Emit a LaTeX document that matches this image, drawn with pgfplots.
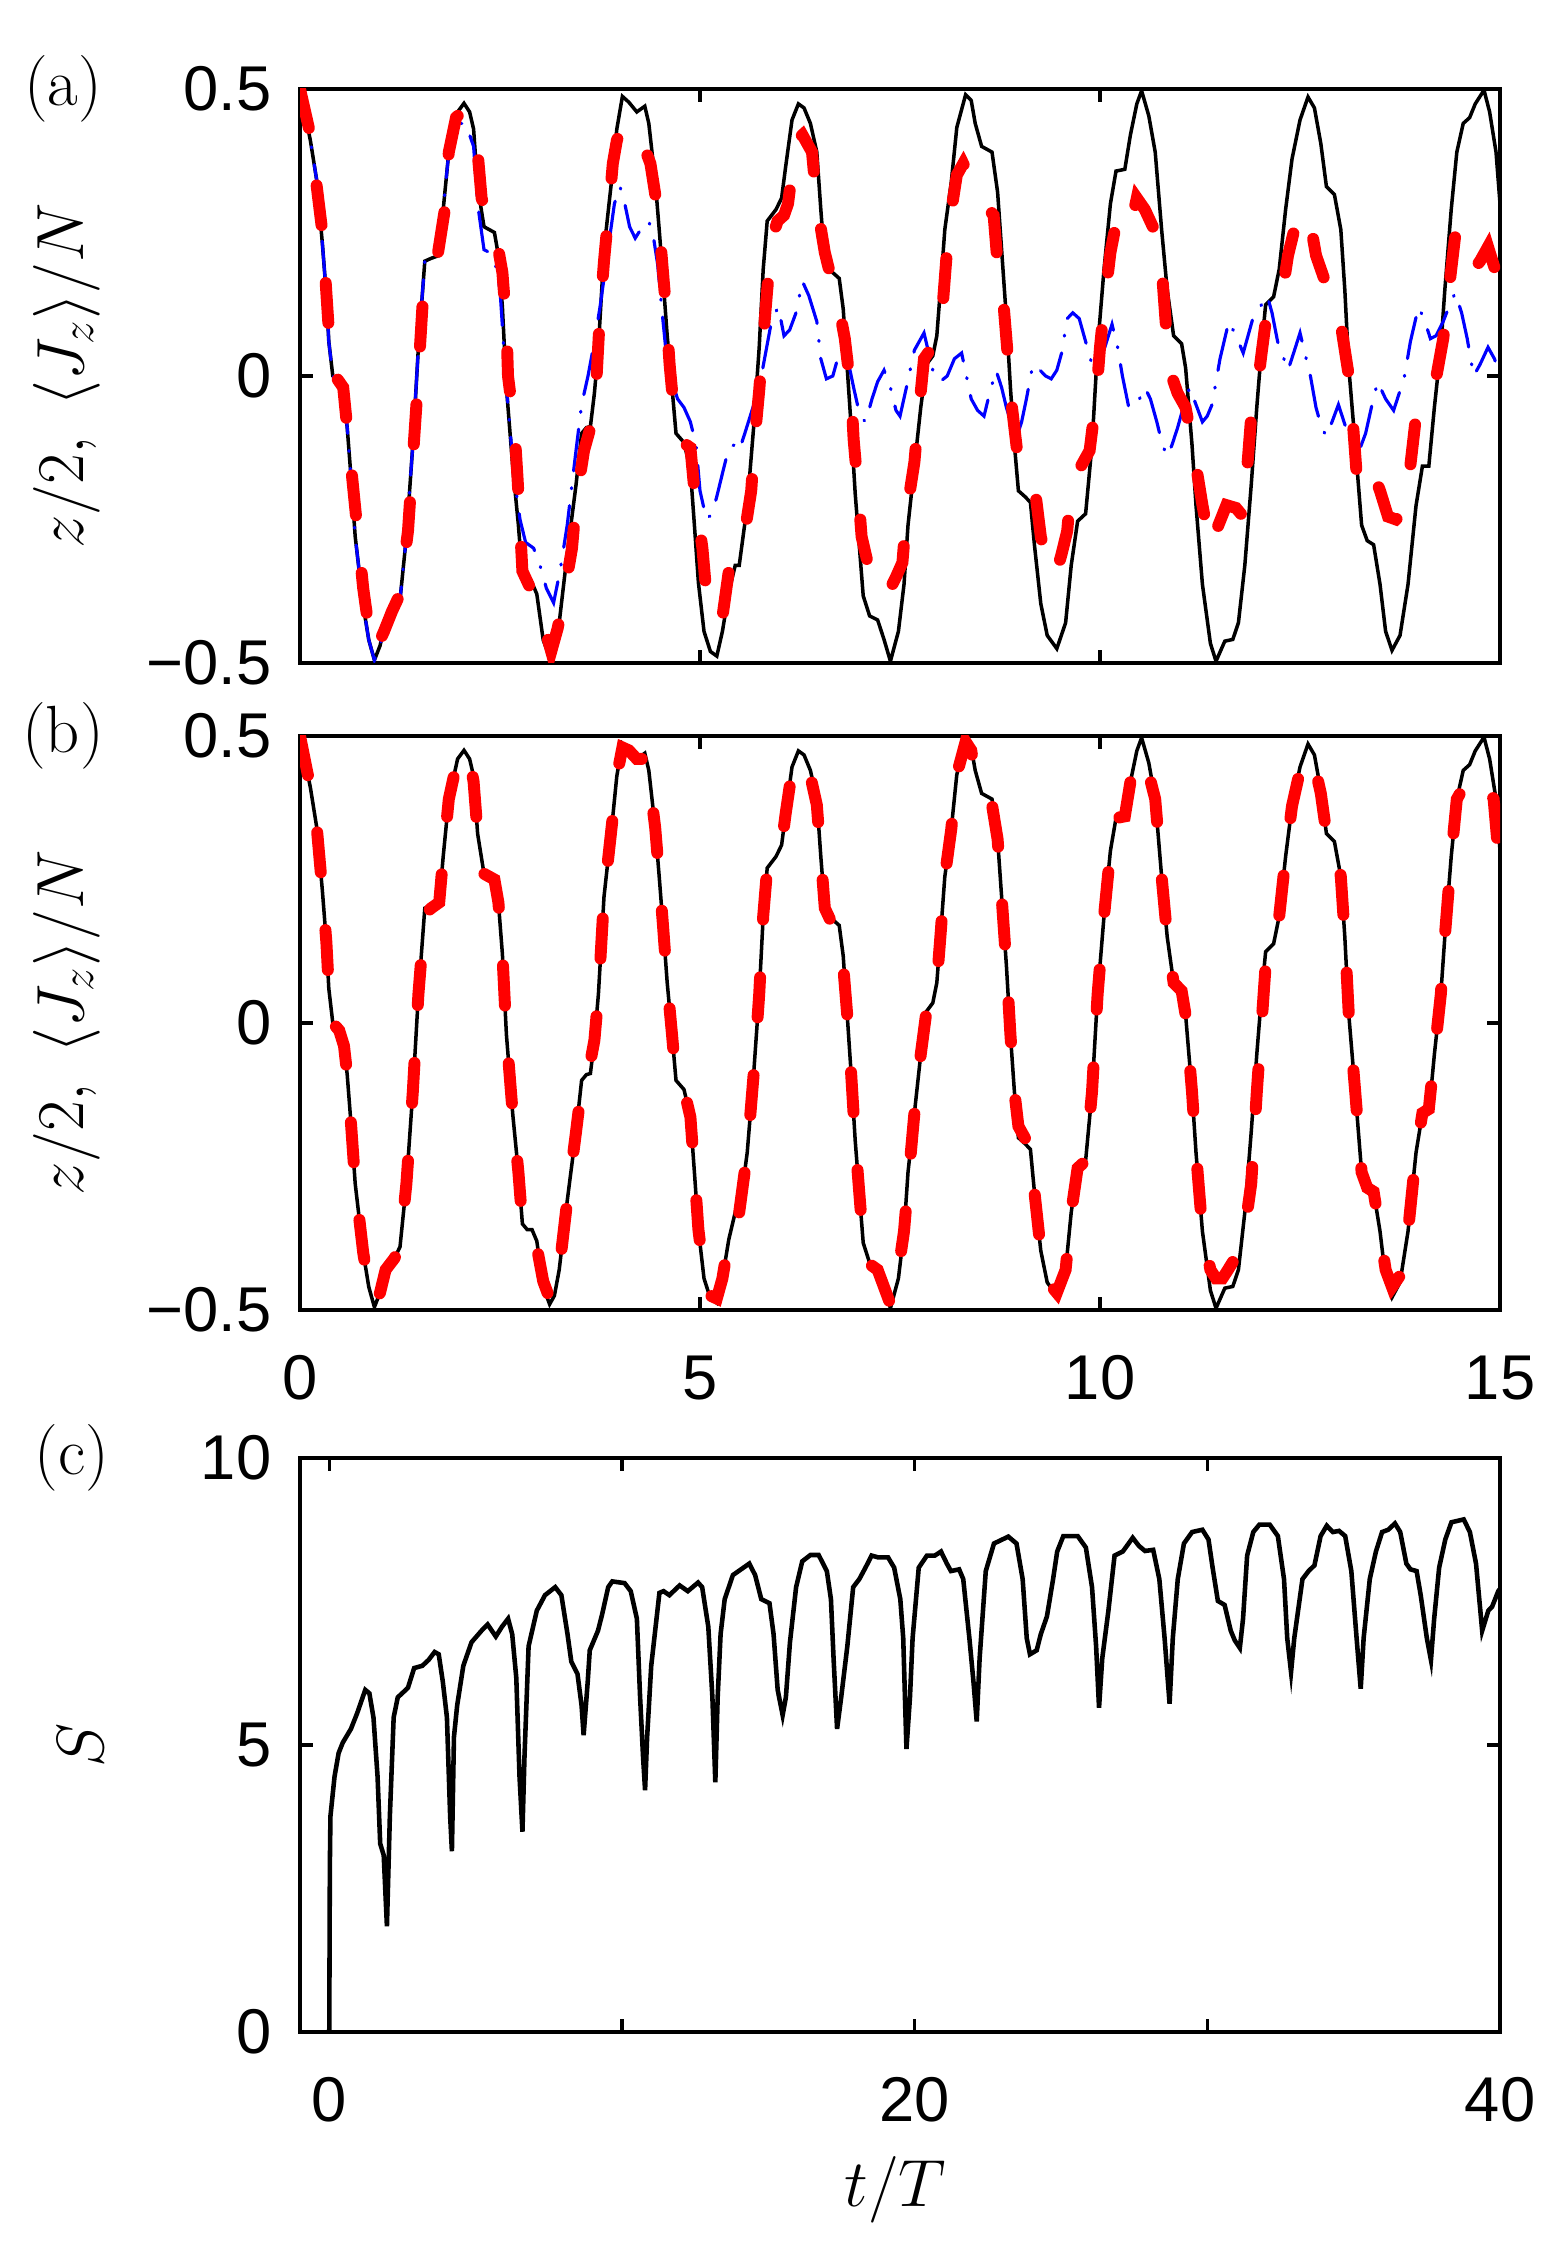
\RequirePackage{fix-cm}
\documentclass[border=0pt]{standalone}
\usepackage{fontspec}
\usepackage{pgfplots}
\pgfplotsset{compat=1.18}
\newfontfamily\helv{Liberation Sans}
\definecolor{mred}{RGB}{255,0,0}
\definecolor{mblue}{RGB}{0,0,255}
\newcommand\labfont{\fontsize{19}{23}\selectfont}

\pgfplotstableread{
t z
0 0.5
0.13 0.41
0.21 0.34
0.28 0.23
0.33 0.14
0.36 0.06
0.41 0.0
0.49 -0.013
0.55 -0.04
0.59 -0.09
0.64 -0.18
0.69 -0.28
0.79 -0.40
0.86 -0.46
0.93 -0.495
1.0 -0.47
1.07 -0.43
1.18 -0.41
1.25 -0.39
1.33 -0.28
1.41 -0.12
1.48 0.05
1.56 0.20
1.64 0.205
1.74 0.21
1.79 0.29
1.86 0.39
1.97 0.46
2.05 0.475
2.12 0.46
2.17 0.43
2.22 0.33
2.3 0.26
2.43 0.25
2.48 0.21
2.53 0.12
2.58 -0.02
2.66 -0.16
2.73 -0.26
2.78 -0.35
2.84 -0.36
2.9 -0.36
2.96 -0.38
3.04 -0.46
3.12 -0.49
3.18 -0.475
3.24 -0.43
3.34 -0.31
3.45 -0.19
3.52 -0.10
3.58 -0.09
3.63 -0.088
3.68 -0.03
3.73 0.05
3.8 0.22
3.91 0.36
3.96 0.43
4.03 0.487
4.11 0.477
4.21 0.46
4.31 0.47
4.36 0.44
4.44 0.34
4.49 0.255
4.54 0.165
4.59 0.07
4.65 -0.02
4.7 -0.1
4.8 -0.116
4.88 -0.164
4.93 -0.26
4.98 -0.36
5.05 -0.445
5.13 -0.48
5.21 -0.488
5.28 -0.445
5.36 -0.377
5.44 -0.33
5.49 -0.33
5.59 -0.226
5.67 -0.09
5.74 0.05
5.79 0.186
5.84 0.27
5.95 0.29
6.02 0.31
6.07 0.364
6.15 0.446
6.23 0.474
6.3 0.467
6.38 0.44
6.46 0.39
6.51 0.29
6.56 0.2
6.66 0.18
6.74 0.17
6.79 0.117
6.84 0.014
6.89 -0.09
6.94 -0.205
6.99 -0.294
7.04 -0.383
7.12 -0.418
7.22 -0.425
7.3 -0.459
7.38 -0.497
7.48 -0.445
7.55 -0.363
7.6 -0.26
7.68 -0.157
7.76 -0.054
7.83 0.02
7.91 0.035
7.96 0.07
8.01 0.16
8.06 0.255
8.14 0.337
8.21 0.433
8.32 0.49
8.39 0.48
8.44 0.44
8.52 0.40
8.65 0.39
8.72 0.32
8.78 0.2
8.83 0.1
8.88 -0.02
8.93 -0.12
8.98 -0.2
9.06 -0.21
9.13 -0.22
9.18 -0.294
9.26 -0.397
9.34 -0.452
9.46 -0.475
9.57 -0.43
9.64 -0.33
9.72 -0.253
9.82 -0.24
9.9 -0.12
9.97 0.05
10.05 0.186
10.13 0.3
10.2 0.357
10.31 0.36
10.38 0.42
10.46 0.474
10.52 0.497
10.61 0.453
10.69 0.39
10.77 0.255
10.84 0.15
10.92 0.07
11.02 0.056
11.07 0.014
11.15 -0.12
11.2 -0.226
11.28 -0.363
11.38 -0.466
11.45 -0.497
11.56 -0.462
11.66 -0.459
11.73 -0.43
11.81 -0.33
11.89 -0.19
11.96 -0.054
12.02 0.05
12.07 0.124
12.17 0.138
12.24 0.186
12.32 0.29
12.4 0.378
12.5 0.446
12.6 0.486
12.68 0.467
12.76 0.405
12.83 0.33
12.93 0.316
13.01 0.255
13.06 0.15
13.11 0.014
13.19 -0.12
13.27 -0.26
13.34 -0.287
13.42 -0.294
13.5 -0.363
13.57 -0.445
13.65 -0.478
13.75 -0.452
13.85 -0.363
13.95 -0.226
14.03 -0.157
14.11 -0.157
14.18 -0.054
14.26 0.05
14.31 0.15
14.39 0.29
14.46 0.39
14.54 0.44
14.62 0.45
14.69 0.474
14.8 0.498
14.87 0.46
14.95 0.39
15.0 0.3
}\blackdata

\pgfplotstableread{
t z
0 0.5
0.13 0.41
0.21 0.34
0.28 0.23
0.33 0.14
0.36 0.06
0.41 0.0
0.49 -0.013
0.55 -0.04
0.59 -0.09
0.64 -0.18
0.69 -0.28
0.79 -0.40
0.86 -0.46
0.93 -0.495
1.0 -0.47
1.07 -0.43
1.18 -0.41
1.25 -0.39
1.33 -0.28
1.41 -0.12
1.48 0.05
1.56 0.20
1.64 0.205
1.74 0.21
1.79 0.29
1.86 0.39
1.97 0.44
2.07 0.44
2.17 0.40
2.22 0.30
2.30 0.22
2.37 0.215
2.45 0.19
2.5 0.15
2.58 -0.02
2.68 -0.18
2.75 -0.25
2.82 -0.29
2.92 -0.30
3.0 -0.33
3.08 -0.37
3.17 -0.395
3.25 -0.34
3.34 -0.26
3.45 -0.13
3.52 -0.05
3.6 0.0
3.68 0.06
3.75 0.12
3.85 0.22
3.93 0.30
4.0 0.33
4.06 0.30
4.12 0.26
4.19 0.24
4.28 0.26
4.36 0.27
4.42 0.24
4.47 0.195
4.52 0.12
4.57 0.05
4.65 -0.01
4.72 -0.04
4.8 -0.055
4.88 -0.08
4.95 -0.12
5.0 -0.2
5.08 -0.25
5.15 -0.24
5.21 -0.21
5.28 -0.17
5.36 -0.125
5.43 -0.12
5.49 -0.13
5.56 -0.10
5.65 -0.06
5.74 -0.02
5.82 0.04
5.9 0.1
5.98 0.12
6.05 0.07
6.12 0.08
6.2 0.11
6.28 0.165
6.36 0.14
6.46 0.095
6.51 0.03
6.58 -0.005
6.66 0.0
6.74 0.04
6.8 0.05
6.86 0.02
6.92 -0.02
7.0 -0.07
7.07 -0.08
7.15 -0.04
7.22 -0.01
7.3 0.01
7.38 -0.02
7.45 -0.06
7.5 -0.07
7.58 -0.02
7.68 0.045
7.8 0.075
7.91 0.01
8.0 -0.01
8.09 0.0
8.18 0.03
8.27 0.04
8.33 0.0
8.39 -0.04
8.47 -0.06
8.55 -0.07
8.62 -0.03
8.7 0.01
8.77 -0.02
8.83 -0.055
8.95 -0.11
9.02 -0.08
9.08 -0.04
9.16 0.02
9.25 0.01
9.32 0.0
9.39 -0.005
9.46 0.01
9.52 0.04
9.59 0.1
9.66 0.11
9.74 0.1
9.82 0.06
9.9 0.02
9.98 0.02
10.06 0.05
10.15 0.09
10.22 0.05
10.28 0.0
10.36 -0.055
10.46 -0.05
10.56 -0.02
10.63 -0.04
10.71 -0.08
10.78 -0.12
10.84 -0.14
10.9 -0.12
10.97 -0.09
11.05 -0.05
11.12 -0.02
11.2 -0.05
11.28 -0.08
11.34 -0.07
11.4 -0.05
11.5 0.03
11.61 0.095
11.7 0.07
11.79 0.04
11.85 0.07
11.91 0.10
12.0 0.12
12.09 0.14
12.15 0.11
12.22 0.06
12.35 0.01
12.42 0.04
12.5 0.075
12.56 0.04
12.63 0.0
12.7 -0.055
12.77 -0.09
12.83 -0.105
12.9 -0.08
12.98 -0.05
13.05 -0.08
13.16 -0.125
13.24 -0.13
13.32 -0.10
13.4 -0.05
13.47 -0.01
13.57 -0.04
13.67 -0.06
13.74 -0.03
13.8 -0.005
13.88 0.06
13.98 0.12
14.05 0.1
14.13 0.065
14.2 0.07
14.29 0.095
14.36 0.12
14.44 0.145
14.52 0.11
14.59 0.065
14.67 0.0
14.75 0.02
14.85 0.05
14.93 0.03
15.0 0.0
}\bluedata

\pgfplotstableread{
t z
0 0.5
0.13 0.42
0.28 0.25
0.36 0.08
0.44 0.0
0.54 -0.02
0.59 -0.09
0.69 -0.23
0.79 -0.37
0.9 -0.48
0.97 -0.47
1.05 -0.445
1.15 -0.41
1.25 -0.38
1.35 -0.27
1.46 -0.04
1.53 0.12
1.62 0.19
1.72 0.21
1.81 0.29
1.86 0.39
1.95 0.45
2.02 0.46
2.1 0.45
2.22 0.39
2.27 0.31
2.35 0.27
2.43 0.26
2.53 0.18
2.58 0.09
2.6 0.0
2.68 -0.09
2.72 -0.18
2.78 -0.34
2.88 -0.37
2.99 -0.40
3.08 -0.45
3.14 -0.48
3.22 -0.44
3.29 -0.39
3.4 -0.30
3.45 -0.22
3.55 -0.13
3.65 -0.08
3.7 -0.02
3.75 0.11
3.8 0.2
3.86 0.29
3.91 0.37
3.96 0.41
4.03 0.44
4.1 0.43
4.16 0.415
4.3 0.40
4.38 0.37
4.47 0.29
4.52 0.21
4.57 0.125
4.62 0.02
4.67 -0.055
4.75 -0.10
4.83 -0.12
4.88 -0.125
4.93 -0.2
5.03 -0.30
5.08 -0.38
5.18 -0.43
5.28 -0.42
5.36 -0.34
5.45 -0.31
5.54 -0.29
5.64 -0.2
5.69 -0.1
5.74 -0.025
5.79 0.065
5.84 0.15
5.9 0.24
5.97 0.27
6.05 0.28
6.1 0.30
6.2 0.41
6.28 0.42
6.36 0.40
6.4 0.39
6.46 0.30
6.56 0.215
6.64 0.17
6.71 0.14
6.81 0.065
6.89 -0.03
6.92 -0.11
6.97 -0.19
7.02 -0.28
7.12 -0.34
7.22 -0.325
7.3 -0.35
7.38 -0.37
7.45 -0.35
7.53 -0.325
7.58 -0.24
7.68 -0.15
7.73 -0.07
7.8 0.03
7.9 0.05
8.01 0.08
8.06 0.17
8.11 0.26
8.21 0.35
8.29 0.37
8.36 0.35
8.42 0.315
8.55 0.30
8.67 0.28
8.72 0.195
8.8 0.115
8.85 0.03
8.9 -0.055
8.98 -0.15
9.08 -0.175
9.18 -0.19
9.26 -0.28
9.34 -0.325
9.44 -0.35
9.52 -0.31
9.59 -0.27
9.64 -0.19
9.75 -0.16
9.87 -0.13
9.95 -0.04
10.0 0.05
10.05 0.12
10.13 0.215
10.2 0.265
10.28 0.26
10.36 0.245
10.46 0.31
10.56 0.29
10.66 0.26
10.77 0.19
10.82 0.095
10.87 0.01
10.97 -0.03
11.07 -0.055
11.17 -0.13
11.28 -0.225
11.38 -0.30
11.48 -0.26
11.58 -0.225
11.7 -0.23
11.79 -0.245
11.84 -0.16
11.89 -0.07
11.94 -0.05
12.02 0.04
12.09 0.115
12.2 0.14
12.3 0.165
12.35 0.21
12.42 0.25
12.5 0.27
12.6 0.29
12.7 0.21
12.8 0.17
12.91 0.145
13.01 0.09
13.11 0.0
13.16 -0.08
13.21 -0.175
13.32 -0.2
13.42 -0.17
13.5 -0.2
13.6 -0.245
13.7 -0.25
13.78 -0.24
13.88 -0.155
13.95 -0.07
14.03 -0.035
14.1 -0.03
14.18 -0.02
14.29 0.065
14.36 0.15
14.44 0.245
14.54 0.24
14.64 0.18
14.75 0.2
14.85 0.225
14.95 0.18
15.0 0.14
}\redAdata

\pgfplotstableread{
t z
0 0.5
0.13 0.41
0.21 0.34
0.28 0.23
0.33 0.14
0.36 0.06
0.41 0.0
0.49 -0.013
0.55 -0.04
0.59 -0.09
0.64 -0.18
0.69 -0.28
0.79 -0.40
0.86 -0.46
0.93 -0.49
1.0 -0.47
1.07 -0.43
1.18 -0.41
1.25 -0.39
1.33 -0.28
1.41 -0.12
1.48 0.05
1.56 0.19
1.64 0.20
1.74 0.21
1.79 0.29
1.86 0.39
1.97 0.46
2.05 0.475
2.12 0.46
2.17 0.42
2.22 0.33
2.3 0.26
2.43 0.25
2.48 0.21
2.53 0.12
2.58 -0.02
2.66 -0.16
2.73 -0.26
2.78 -0.35
2.84 -0.36
2.9 -0.37
2.96 -0.39
3.04 -0.45
3.12 -0.48
3.18 -0.47
3.24 -0.43
3.34 -0.31
3.45 -0.19
3.52 -0.11
3.6 -0.09
3.68 -0.03
3.73 0.05
3.8 0.22
3.91 0.36
3.96 0.43
4.03 0.48
4.11 0.475
4.21 0.46
4.31 0.46
4.36 0.43
4.44 0.34
4.49 0.255
4.54 0.165
4.59 0.07
4.65 -0.02
4.7 -0.1
4.8 -0.116
4.88 -0.164
4.93 -0.26
4.98 -0.36
5.05 -0.44
5.13 -0.475
5.21 -0.48
5.28 -0.445
5.36 -0.377
5.44 -0.33
5.49 -0.33
5.59 -0.226
5.67 -0.09
5.74 0.05
5.79 0.186
5.84 0.27
5.95 0.29
6.02 0.31
6.07 0.364
6.15 0.44
6.23 0.46
6.3 0.455
6.38 0.43
6.46 0.38
6.51 0.29
6.56 0.2
6.66 0.17
6.74 0.14
6.79 0.10
6.84 0.014
6.89 -0.09
6.94 -0.205
6.99 -0.294
7.04 -0.383
7.12 -0.42
7.22 -0.43
7.3 -0.46
7.38 -0.49
7.48 -0.43
7.55 -0.363
7.6 -0.28
7.68 -0.157
7.76 -0.054
7.83 0.02
7.91 0.035
7.96 0.07
8.01 0.16
8.06 0.255
8.14 0.337
8.21 0.433
8.32 0.49
8.39 0.475
8.44 0.43
8.52 0.40
8.65 0.38
8.72 0.32
8.78 0.2
8.83 0.1
8.88 -0.02
8.93 -0.12
8.98 -0.18
9.06 -0.20
9.13 -0.22
9.18 -0.294
9.26 -0.397
9.34 -0.45
9.46 -0.47
9.57 -0.43
9.64 -0.33
9.72 -0.253
9.82 -0.24
9.9 -0.12
9.97 0.05
10.05 0.186
10.13 0.3
10.2 0.357
10.31 0.36
10.38 0.42
10.46 0.46
10.52 0.465
10.58 0.45
10.69 0.39
10.77 0.255
10.84 0.15
10.92 0.07
11.02 0.056
11.07 0.014
11.15 -0.12
11.2 -0.226
11.28 -0.363
11.38 -0.43
11.45 -0.445
11.53 -0.445
11.6 -0.43
11.73 -0.40
11.81 -0.36
11.89 -0.28
11.96 -0.12
12.02 0.0
12.07 0.10
12.17 0.135
12.24 0.186
12.32 0.29
12.4 0.378
12.5 0.44
12.6 0.47
12.68 0.45
12.76 0.40
12.83 0.33
12.93 0.316
13.01 0.255
13.06 0.15
13.11 0.014
13.19 -0.12
13.27 -0.26
13.34 -0.287
13.42 -0.294
13.5 -0.363
13.57 -0.43
13.65 -0.46
13.75 -0.44
13.85 -0.363
13.95 -0.226
14.03 -0.157
14.11 -0.15
14.18 -0.054
14.26 0.05
14.31 0.15
14.39 0.29
14.46 0.39
14.54 0.41
14.62 0.405
14.69 0.42
14.76 0.43
14.85 0.41
14.92 0.39
14.97 0.31
15.0 0.28
}\redBdata

\pgfplotstableread{
t S
0 0
0.02 2.9
0.04 3.76
0.18 4.45
0.32 4.86
0.46 5.04
0.74 5.28
0.95 5.55
1.23 5.96
1.37 5.9
1.51 5.48
1.65 4.45
1.74 3.28
1.86 3.08
1.97 1.84
2.07 3.76
2.2 5.48
2.34 5.83
2.55 5.93
2.69 6.0
2.9 6.34
3.18 6.38
3.39 6.48
3.6 6.62
3.74 6.58
3.88 6.1
4.02 5.48
4.13 3.76
4.19 3.15
4.26 5.14
4.37 5.69
4.58 6.38
4.86 6.79
5.2 6.99
5.41 7.1
5.69 6.89
5.9 7.06
6.11 7.2
6.25 6.93
6.39 6.17
6.5 4.45
6.6 3.49
6.67 4.8
6.81 6.72
7.09 7.34
7.37 7.61
7.72 7.75
7.93 7.61
8.14 6.93
8.27 6.45
8.48 6.24
8.62 5.69
8.69 5.17
8.83 6.1
8.9 6.65
9.18 6.99
9.32 7.27
9.53 7.75
9.67 7.85
10.09 7.82
10.3 7.68
10.51 7.2
10.62 5.83
10.72 4.8
10.79 4.21
10.86 5.14
11.0 6.38
11.28 7.65
11.42 7.68
11.62 7.61
11.97 7.78
12.25 7.68
12.6 7.83
12.74 7.75
12.95 7.06
13.09 5.83
13.19 4.35
13.27 5.83
13.37 6.93
13.51 7.54
13.79 7.96
14.07 8.06
14.35 8.16
14.55 7.96
14.76 7.54
15.04 7.47
15.18 6.93
15.32 5.96
15.49 5.52
15.6 5.83
15.74 6.79
15.95 7.75
16.16 8.2
16.44 8.31
16.72 8.31
17.0 8.03
17.14 7.54
17.23 6.51
17.35 5.28
17.49 5.83
17.7 6.72
17.9 7.75
18.11 7.89
18.32 8.09
18.53 8.3
18.74 8.27
19.09 8.27
19.3 8.09
19.51 7.54
19.61 6.86
19.72 4.93
19.84 5.83
19.93 6.86
20.14 8.09
20.42 8.3
20.69 8.3
20.9 8.37
21.1 8.16
21.24 8.03
21.52 8.06
21.66 7.89
21.87 6.86
22.01 6.1
22.12 5.41
22.22 6.51
22.43 8.03
22.71 8.51
23.2 8.63
23.48 8.51
23.69 7.89
23.83 6.86
23.94 6.58
24.17 6.65
24.31 6.93
24.52 7.24
24.73 7.89
24.87 8.37
25.08 8.64
25.57 8.64
25.85 8.44
26.06 7.75
26.2 6.72
26.3 5.65
26.41 6.51
26.62 7.34
26.83 8.3
27.11 8.37
27.31 8.51
27.45 8.61
27.66 8.47
27.87 8.38
28.15 8.4
28.36 7.89
28.54 6.86
28.71 5.72
28.82 6.86
28.99 7.89
29.2 8.51
29.48 8.71
29.83 8.75
30.04 8.58
30.18 8.09
30.36 7.51
30.59 7.44
30.8 6.99
30.94 6.82
31.11 6.69
31.22 7.2
31.36 8.3
31.57 8.71
31.78 8.84
32.13 8.84
32.41 8.64
32.62 7.89
32.73 6.86
32.86 6.27
32.97 6.86
33.25 7.89
33.46 8.03
33.66 8.13
33.87 8.64
34.08 8.82
34.29 8.71
34.5 8.73
34.71 8.64
34.92 8.03
35.1 6.86
35.24 5.98
35.34 6.86
35.55 7.89
35.76 8.37
35.97 8.71
36.18 8.75
36.41 8.86
36.59 8.71
36.8 8.16
36.94 8.06
37.15 8.03
37.29 7.61
37.5 6.86
37.64 6.48
37.75 7.2
37.92 8.09
38.13 8.58
38.34 8.88
38.76 8.93
38.97 8.71
39.18 8.16
39.39 6.99
39.6 7.34
39.73 7.41
39.94 7.68
40 7.72
}\entdata

\pgfplotsset{
  myaxis/.style={
    scale only axis, width=12cm, height=5.74cm, anchor=south west,
    axis line style={line width=0.9pt},
    tick style={line width=0.9pt, black},
    tick align=inside, major tick length=0.13cm,
    xtick pos=both, ytick pos=both,
    tick label style={font=\helv\fontsize{18}{21}\selectfont, inner sep=0pt},
    xticklabel style={anchor=north, yshift=-0.45cm},
    yticklabel style={anchor=east, xshift=-0.28cm},
    every axis y label/.style={at={(axis description cs:-0.194,0.5)}, rotate=90, anchor=center, font=\labfont},
    every axis x label/.style={at={(axis description cs:0.496,-0.275)}, anchor=center, font=\labfont},
  },
  zaxis/.style={myaxis, xmin=0, xmax=15, ymin=-0.5, ymax=0.5,
    xtick={0,5,10,15}, ytick={-0.5,0,0.5}, yticklabels={−0.5,0,0.5},
    ylabel={$z/2,\;\langle J_z\rangle/N$}},
  blk/.style={black, line width=1.0pt, no markers},
  rd/.style={mred, line width=3.4pt, no markers, line cap=round, dash pattern=on 0.40cm off 0.58cm},
  bl/.style={mblue, line width=0.9pt, no markers, line cap=round, dash pattern=on 0.42cm off 0.17cm on 0.01cm off 0.17cm},
}

\begin{document}
\begin{tikzpicture}
\path[use as bounding box] (0,0) rectangle (15.67,22.5);

\begin{axis}[zaxis, at={(3cm,15.87cm)}, xticklabels={,,,},
  after end axis/.code={\node[font=\labfont] at (rel axis cs:-0.1975,1.0) {(a)};}]
\addplot[blk] table[x=t,y=z] {\blackdata};
\addplot[bl] table[x=t,y=z] {\bluedata};
\addplot[rd] table[x=t,y=z] {\redAdata};
\end{axis}

\begin{axis}[zaxis, at={(3cm,9.40cm)}, xticklabels={0,5,10,15},
  after end axis/.code={\node[font=\labfont] at (rel axis cs:-0.1975,1.0) {(b)};}]
\addplot[blk] table[x=t,y=z] {\blackdata};
\addplot[rd] table[x=t,y=z] {\redBdata};
\end{axis}

\begin{axis}[myaxis, at={(3cm,2.18cm)}, xmin=-1, xmax=40, ymin=0, ymax=10,
  xtick={0,10,20,30,40}, xticklabels={0,,20,,40},
  ytick={0,5,10}, yticklabels={0,5,10},
  every axis y label/.style={at={(axis description cs:-0.183,0.5)}, rotate=90, anchor=center, font=\labfont},
  ylabel={$S$}, xlabel={$t/T$},
  after end axis/.code={\node[font=\labfont] at (rel axis cs:-0.19,1.0) {(c)};}]
\addplot[black, line width=1.3pt, no markers] table[x=t,y=S] {\entdata};
\end{axis}
\end{tikzpicture}
\end{document}
